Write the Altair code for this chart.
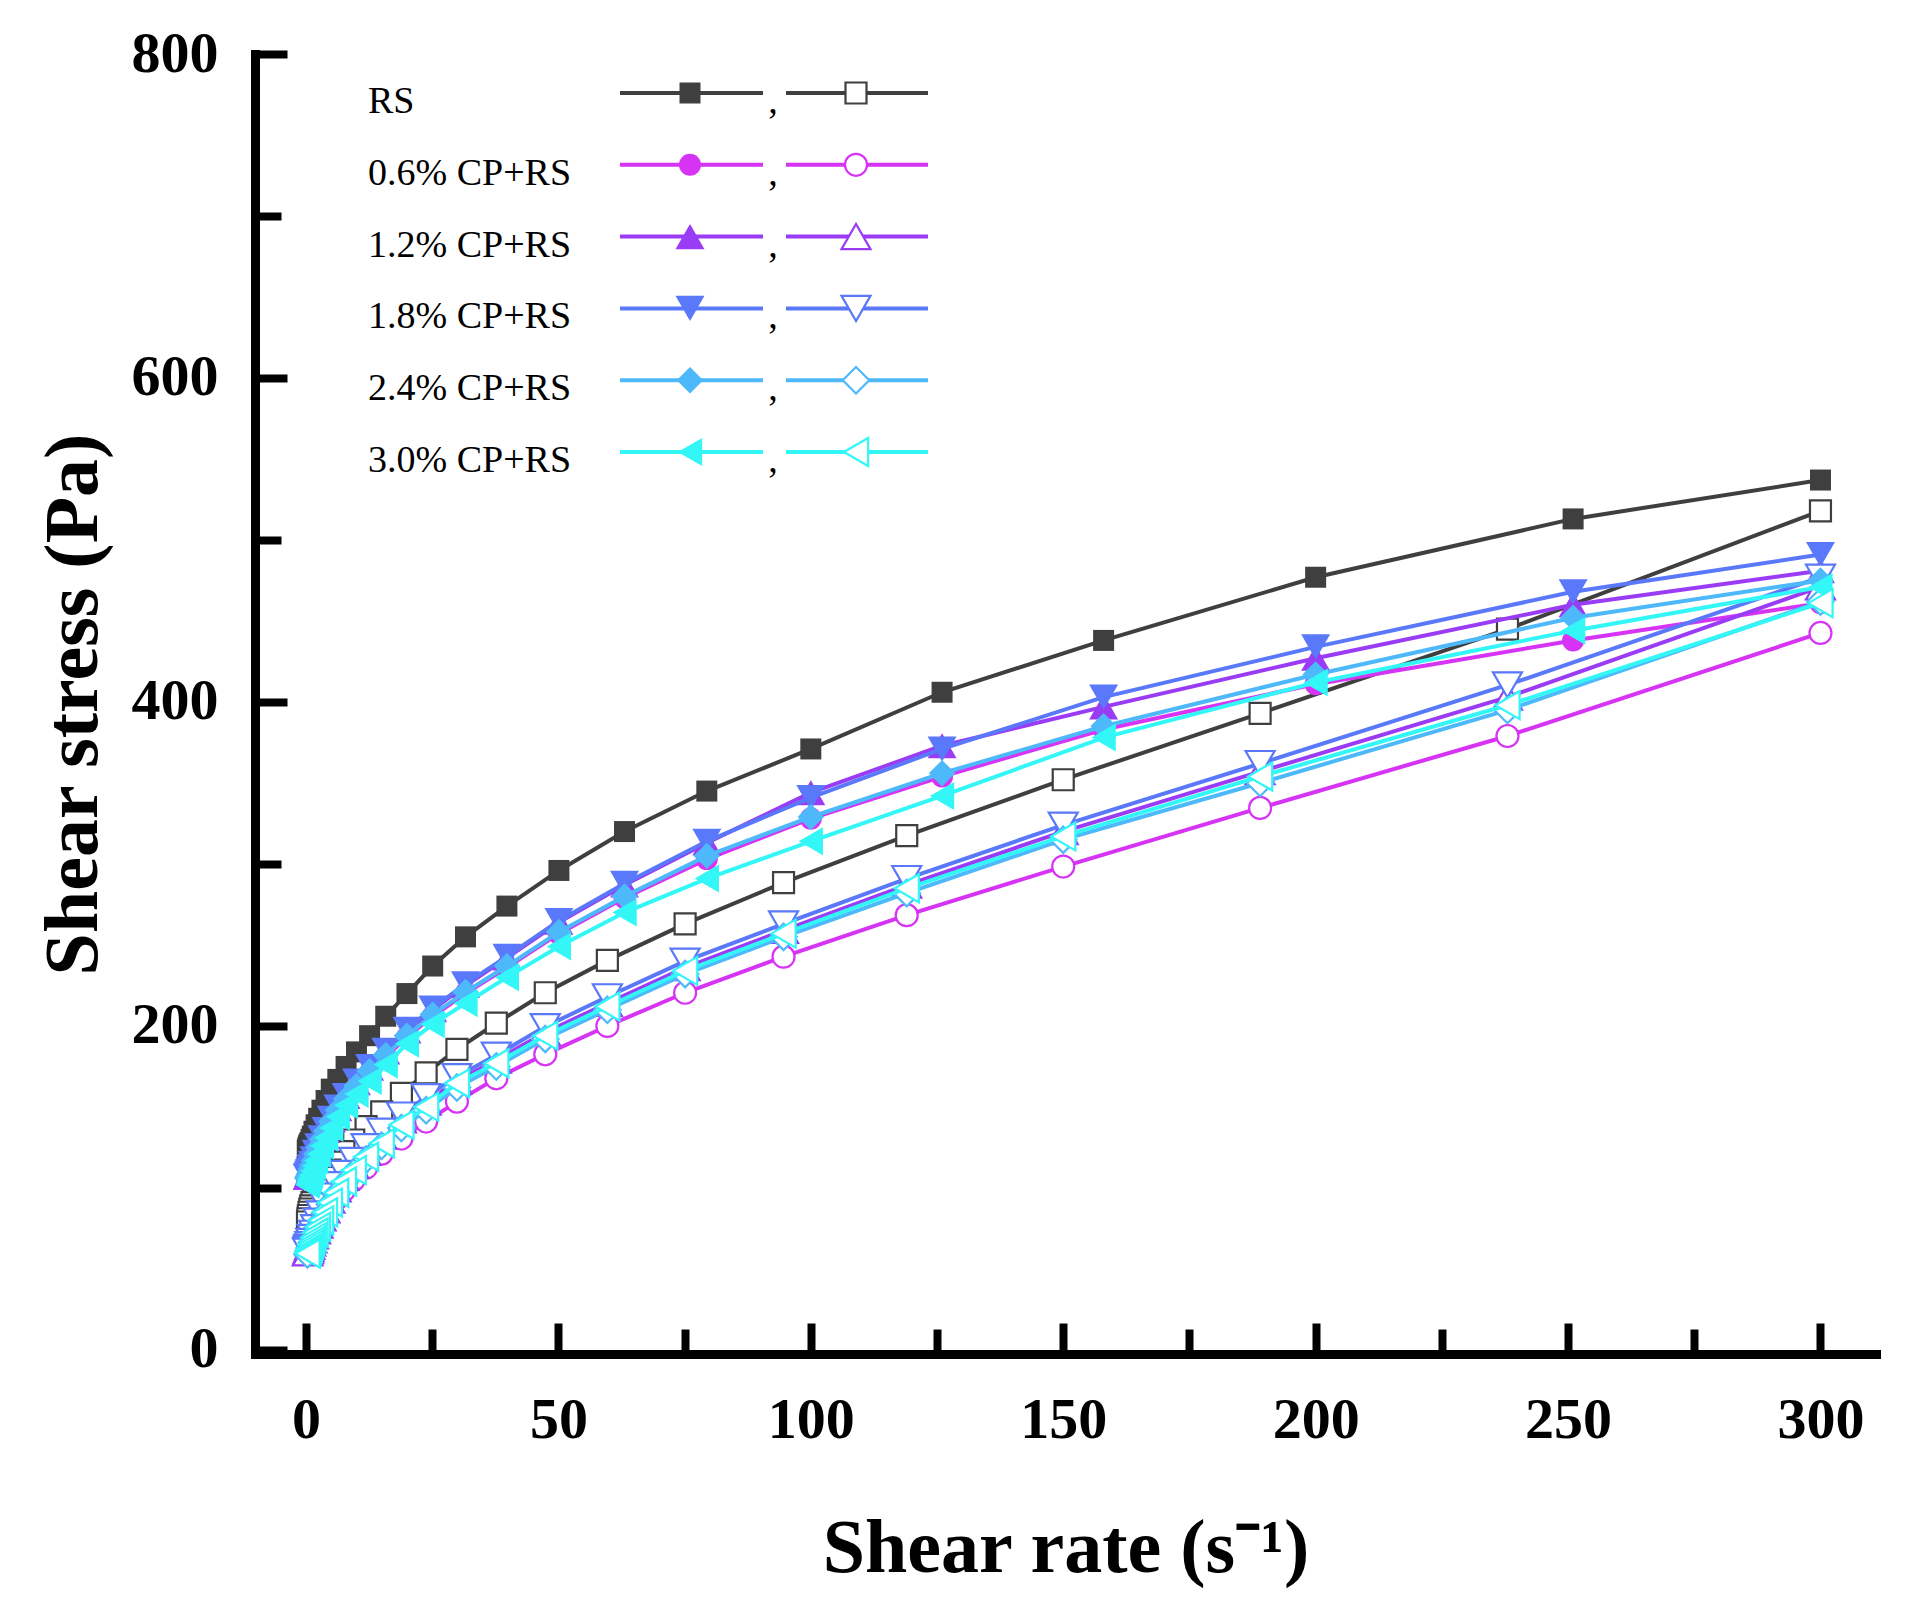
import altair as alt
import pandas as pd

# ---------------- data ----------------
up_x = [0.251, 0.316, 0.398, 0.501, 0.631, 0.794, 1.0, 1.26, 1.58, 2.0, 2.51, 3.16,
        3.98, 5.01, 6.31, 7.94, 10.0, 12.6, 15.8, 20.0, 25.1, 31.6, 39.8, 50.1,
        63.1, 79.4, 100.0, 126.0, 158.0, 200.0, 251.0, 300.0]
down_x = [300.0, 238.0, 189.0, 150.0, 119.0, 94.6, 75.1, 59.7, 47.4, 37.7, 29.9,
          23.8, 18.9, 15.0, 11.9, 9.46, 7.51, 5.97, 4.74, 3.77, 2.99, 2.38, 1.89,
          1.50, 1.19, 0.946, 0.751, 0.597, 0.474, 0.377, 0.299]

rs_up = [123, 124, 125, 126, 127, 128, 130, 132, 135, 139, 143, 148, 154, 161, 167, 175,
         184, 194, 206, 220, 237, 255, 274, 296, 320, 345, 371, 406, 438, 477, 513, 537]
cp06_up = [105, 105.5, 106, 107, 108, 109, 111, 113, 116, 120, 124, 129, 134, 140, 147, 154,
           162, 171, 181, 193, 206, 220, 236, 257, 279, 303, 328, 354, 383, 411, 438, 461]
cp12_up = [106.5, 107, 107.5, 108.5, 109.5, 110.5, 112.5, 114.5, 117.5, 121, 125.5, 130.5,
           135.5, 142, 149, 156.5, 165, 174, 184, 197, 210, 225, 242, 264, 287, 313, 344,
           373, 397, 427, 460, 481]
cp18_up = [107, 107.5, 108, 109, 110, 111, 113, 115, 118, 122, 126, 131, 136, 143, 150, 157,
           166, 175, 185, 198, 211, 226, 243, 265, 288, 314, 341, 371, 403, 434, 468, 491]
cp24_up = [106, 106.5, 107, 108, 109, 110, 112, 114, 117, 121, 125, 130, 135, 141, 148, 155,
           163, 172, 182, 194, 207, 221, 237, 258, 280, 305, 329, 356, 385, 417, 452, 475]
cp30_up = [102, 102.5, 103, 104, 105, 106.5, 108, 110.5, 113.5, 117, 121, 126, 131, 137, 144,
           151, 158, 166, 176, 189, 201, 214, 230, 249, 270, 291, 314, 342, 378, 412, 444, 471]

rs_down = [518, 445, 393, 352, 317.5, 288.5, 263, 240.5, 220.5, 201.7, 185.6, 171, 158.4, 147,
           137.8, 129.6, 122.4, 116, 111, 106.5, 102.5, 99, 96, 93.5, 91, 89, 87, 85, 83, 81, 79]
cp06_down = [442.6, 379, 334.6, 298.4, 268.4, 242.8, 220.5, 200, 182.5, 167.7, 153.3, 141,
             130.5, 121.2, 112.5, 105, 98.5, 93, 88, 83.5, 79.5, 76, 73, 70.5, 68, 66, 64,
             62.5, 61.5, 60.5, 60]
cp12_down = [471, 403, 357, 320, 287, 259, 236, 214, 196, 179, 166, 153, 142, 132, 122, 114,
             106.5, 99.5, 92.5, 86.5, 81.5, 77, 73.5, 70.5, 68, 66, 64, 62.5, 61.5, 60.5, 60]
cp18_down = [477, 410.5, 362, 324, 291, 263, 240, 218, 199.6, 182, 168.7, 156.4, 145, 135,
             125.5, 117, 109, 102, 95, 89, 84, 79.5, 75.5, 72, 69.5, 67, 65, 63.5, 62.5, 61.5, 61]
cp24_down = [462, 395, 350, 315, 282, 255, 232, 210, 192, 175, 162, 148, 137, 126, 117.5,
             109.5, 102.5, 96, 90, 84.5, 79.5, 75.5, 72, 69, 66.5, 64.5, 63, 61.5, 60.5, 59.5, 59]
cp30_down = [461, 398, 354, 317, 285, 257, 234, 212, 194, 177, 164.6, 150, 139, 127.6, 119.3,
             111, 104, 97, 91, 85, 80, 76, 72.5, 69.5, 67, 65, 63, 62, 61, 60, 59.5]

labels = ["RS", "0.6% CP+RS", "1.2% CP+RS", "1.8% CP+RS", "2.4% CP+RS", "3.0% CP+RS"]
up_series = [rs_up, cp06_up, cp12_up, cp18_up, cp24_up, cp30_up]
down_series = [rs_down, cp06_down, cp12_down, cp18_down, cp24_down, cp30_down]

x_major = [0, 50, 100, 150, 200, 250, 300]
x_minor = [25, 75, 125, 175, 225, 275]
y_major = [0, 200, 400, 600, 800]
y_minor = [100, 300, 500, 700]

# ---------------- styles ----------------
colors = ["#3f3f3f", "#d633f5", "#9a3cf5", "#5a78fa", "#4db8fa", "#33f6f6"]
shapes = ["square", "circle", "triangle-up", "triangle-down", "diamond", "triangle-left"]
sizes = [441, 484, 841, 841, 700, 784]

W, H = 1621, 1300
FONT = "Liberation Serif"
xs = alt.Scale(domain=[-10.1, 311], nice=False, zero=False)
ys = alt.Scale(domain=[-2.5, 800], nice=False, zero=False)

layers = []
for i, lab in enumerate(labels):
    for kind, xv, yv in (("up", up_x, up_series[i]), ("down", down_x, down_series[i])):
        df = pd.DataFrame({"x": xv, "y": yv})
        base = alt.Chart(df).encode(
            x=alt.X("x:Q", scale=xs, axis=None),
            y=alt.Y("y:Q", scale=ys, axis=None),
        )
        line = base.mark_line(color=colors[i], strokeWidth=4, clip=True)
        if kind == "up":
            pts = base.mark_point(shape=shapes[i], size=sizes[i], filled=True,
                                  color=colors[i], opacity=1, strokeWidth=0)
        else:
            pts = base.mark_point(shape=shapes[i], size=sizes[i], filled=False,
                                  fill="white", fillOpacity=1, stroke=colors[i],
                                  strokeWidth=2.2, opacity=1)
        layers += [line, pts]

# ---------------- axes ----------------
ax_df = pd.DataFrame({"x": [0.0, 300.0], "y": [0.0, 800.0]})


def axis_layer(xaxis, yaxis):
    return alt.Chart(ax_df).mark_point(opacity=0).encode(
        x=alt.X("x:Q", scale=xs, axis=xaxis),
        y=alt.Y("y:Q", scale=ys, axis=yaxis),
    )


label_layer = axis_layer(
    alt.Axis(orient="bottom", values=x_major, ticks=False, grid=False, domain=True,
             domainColor="black", domainWidth=9, domainCap="square",
             labelFont=FONT, labelFontSize=58, labelFontWeight="bold", labelColor="black",
             labelPadding=37, labelFlush=False, labelOverlap=False,
             title="Shear rate (s\u207b\u00b9)", titleFont=FONT, titleFontSize=76,
             titleFontWeight="bold", titleColor="black", titleY=217,
             titleBaseline="alphabetic"),
    alt.Axis(orient="left", values=y_major, ticks=False, grid=False, domain=True,
             domainColor="black", domainWidth=9, domainCap="square",
             labelFont=FONT, labelFontSize=58, labelFontWeight="bold", labelColor="black",
             labelPadding=37, labelFlush=False, labelOverlap=False,
             title="Shear stress (Pa)", titleFont=FONT, titleFontSize=76,
             titleFontWeight="bold", titleColor="black", titleAngle=270,
             titleX=-159, titleY=H / 2, titleAlign="center", titleBaseline="alphabetic"),
)


def tick_axis(orient, offset, values, size):
    return alt.Axis(orient=orient, offset=offset, values=values, ticks=True,
                    tickSize=size, tickWidth=8, tickColor="black", labels=False,
                    domain=False, grid=False, title="")


tick_layers = [
    axis_layer(tick_axis("top", -H, x_major, 31), None),
    axis_layer(tick_axis("top", -H, x_minor, 25), None),
    axis_layer(None, tick_axis("right", -W, y_major, 32)),
    axis_layer(None, tick_axis("right", -W, y_minor, 26)),
]

# ---------------- legend (drawn in pixel space) ----------------
row0, dy = 39, 71.8
leg = pd.DataFrame({
    "label": labels,
    "col": colors,
    "shape": shapes,
    "size": sizes,
    "ly": [row0 + k * dy for k in range(len(labels))],
})
leg["ty"] = leg["ly"] + 20
leg["tx"] = 113
leg["f1"], leg["f2"], leg["fm"] = 365, 508, 435
leg["o1"], leg["o2"], leg["om"] = 531, 673, 601
leg["cx"] = 518
leg["comma"] = ","

lb = alt.Chart(leg)
NS = dict(scale=None, axis=None)
leg_layers = [
    lb.mark_text(font=FONT, fontSize=38, align="left", baseline="alphabetic",
                 color="black").encode(
        x=alt.X("tx:Q", **NS), y=alt.Y("ty:Q", **NS), text="label:N"),
    lb.mark_rule(strokeWidth=4).encode(
        x=alt.X("f1:Q", **NS), x2="f2:Q", y=alt.Y("ly:Q", **NS),
        color=alt.Color("col:N", scale=None)),
    lb.mark_point(filled=True, opacity=1, strokeWidth=0).encode(
        x=alt.X("fm:Q", **NS), y=alt.Y("ly:Q", **NS),
        color=alt.Color("col:N", scale=None), shape=alt.Shape("shape:N", scale=None),
        size=alt.Size("size:Q", scale=None)),
    lb.mark_text(font=FONT, fontSize=38, align="center", baseline="alphabetic",
                 color="black").encode(
        x=alt.X("cx:Q", **NS), y=alt.Y("ty:Q", **NS), text="comma:N"),
    lb.mark_rule(strokeWidth=4).encode(
        x=alt.X("o1:Q", **NS), x2="o2:Q", y=alt.Y("ly:Q", **NS),
        color=alt.Color("col:N", scale=None)),
    lb.mark_point(filled=False, fill="white", fillOpacity=1, strokeWidth=2.2,
                  opacity=1).encode(
        x=alt.X("om:Q", **NS), y=alt.Y("ly:Q", **NS),
        stroke=alt.Stroke("col:N", scale=None), shape=alt.Shape("shape:N", scale=None),
        size=alt.Size("size:Q", scale=None)),
]

chart = alt.layer(*layers, label_layer, *tick_layers, *leg_layers).resolve_axis(
    x="independent", y="independent"
).properties(
    width=W, height=H,
    autosize=alt.AutoSizeParams(type="none"),
    padding={"left": 247, "top": 46, "right": 30, "bottom": 240},
    background="white",
).configure_view(stroke="transparent")

chart.save("out.html", embed_options={"renderer": "svg", "actions": False})
